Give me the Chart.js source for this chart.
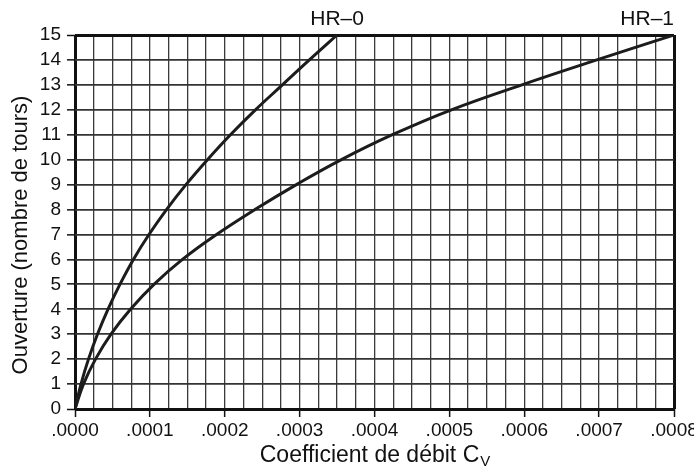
<!DOCTYPE html>
<html>
<head>
<meta charset="utf-8">
<script src="https://cdn.jsdelivr.net/npm/chart.js@4"></script>
<style>
  html, body { margin: 0; padding: 0; background: #fff; }
  #wrap { width: 694px; height: 473px; }
</style>
</head>
<body>
<div id="wrap"><canvas id="chart-cv"></canvas></div>
<script>
// opening (turns) on the y axis, flow coefficient Cv on the x axis
var OPENING = [0, 1, 2, 3, 4, 5, 6, 7, 8, 9, 10, 11, 12, 13, 14, 15]
var HR0_CV = [0, 0.000008, 0.000018, 0.00003, 0.000044, 0.00006, 0.000078, 0.0000988,
  0.0001222, 0.0001482, 0.0001769, 0.0002076, 0.000241, 0.000277, 0.000313, 0.00035]
var HR1_CV = [0, 0.0000113, 0.0000274, 0.0000481, 0.0000741, 0.0001055, 0.0001435, 0.000189,
  0.0002403, 0.0002957, 0.0003558, 0.0004239, 0.0005027, 0.0005968, 0.0006969, 0.0008]
var SERIES_NAMES = ['HR–0', 'HR–1']

var X_LABELS = ['.0000', '.0001', '.0002', '.0003', '.0004', '.0005', '.0006', '.0007', '.0008']
var X_MAJOR_STEP = 0.0001
var X_MINOR_PER_MAJOR = 4
var Y_MIN = 0
var Y_MAX = 15
var X_TITLE = 'Coefficient de débit C'
var X_TITLE_SUB = 'V'
var Y_TITLE = 'Ouverture (nombre de tours)'

var FONT = 'Liberation Sans, Arial, sans-serif'

function toPoints(cv) {
  return OPENING.map(function (o, i) { return { x: cv[i], y: o } })
}

// curve labels above the end of each series, axis titles (x one has a subscript)
var annotations = {
  id: 'annotations',
  afterDraw: function (chart) {
    var ctx = chart.ctx
    var area = chart.chartArea
    ctx.save()
    ctx.fillStyle = '#111'
    ctx.textBaseline = 'middle'
    ctx.textAlign = 'left'
    ctx.font = '21px ' + FONT
    chart.data.datasets.forEach(function (ds, i) {
      var pts = chart.getDatasetMeta(i).data
      var last = pts[pts.length - 1]
      var w = ctx.measureText(ds.label).width
      var x = Math.min(last.x - w / 2, area.right - w)
      ctx.fillText(ds.label, x, area.top - 16)
    })

    ctx.font = '23px ' + FONT
    var w1 = ctx.measureText(X_TITLE).width
    ctx.font = '15px ' + FONT
    var w2 = ctx.measureText(X_TITLE_SUB).width
    var cx = (area.left + area.right) / 2
    var x0 = cx - (w1 + w2) / 2
    ctx.font = '23px ' + FONT
    ctx.fillText(X_TITLE, x0, 456)
    ctx.font = '15px ' + FONT
    ctx.fillText(X_TITLE_SUB, x0 + w1 + 1, 462)

    ctx.translate(21, 235)
    ctx.rotate(-Math.PI / 2)
    ctx.textAlign = 'center'
    ctx.font = '22px ' + FONT
    ctx.fillText(Y_TITLE, 0, 0)
    ctx.restore()
  },
}

var edgeWidth = function (c, n) {
  return (c.index === 0 || c.index === n) ? 3 : null
}

var ctx = document.getElementById('chart-cv').getContext('2d')

var ChartCV = new Chart(ctx, {
  type: 'line',
  data: {
    datasets: [
      {
        label: SERIES_NAMES[0],
        data: toPoints(HR0_CV),
        borderColor: '#1c1c1c',
        borderWidth: 3,
        pointRadius: 0,
        fill: false,
        tension: 0.4,
      },
      {
        label: SERIES_NAMES[1],
        data: toPoints(HR1_CV),
        borderColor: '#1c1c1c',
        borderWidth: 3,
        pointRadius: 0,
        fill: false,
        tension: 0.4,
      },
    ],
  },
  plugins: [annotations],
  options: {
    responsive: true,
    maintainAspectRatio: false,
    animation: false,
    layout: {
      padding: { left: 0, right: 20, top: 35, bottom: 0 },
    },
    plugins: {
      legend: { display: false },
      tooltip: { enabled: false },
    },
    scales: {
      x: {
        type: 'linear',
        min: 0,
        max: X_MAJOR_STEP * (X_LABELS.length - 1),
        afterBuildTicks: function (scale) {
          var n = (X_LABELS.length - 1) * X_MINOR_PER_MAJOR
          var ticks = []
          for (var k = 0; k <= n; k++) ticks.push({ value: k * X_MAJOR_STEP / X_MINOR_PER_MAJOR })
          scale.ticks = ticks
        },
        afterFit: function (scale) {
          scale.height = 64
          scale.paddingLeft = 0
          scale.paddingRight = 0
        },
        border: { display: false },
        grid: {
          color: function (c) {
            var n = (X_LABELS.length - 1) * X_MINOR_PER_MAJOR
            return (c.index === 0 || c.index === n) ? '#111' : '#3a3a3a'
          },
          lineWidth: function (c) {
            return edgeWidth(c, (X_LABELS.length - 1) * X_MINOR_PER_MAJOR) || 1.3
          },
          tickColor: function (c) {
            return c.index % X_MINOR_PER_MAJOR === 0 ? '#111' : 'rgba(0,0,0,0)'
          },
          tickWidth: 1.5,
          tickLength: 8,
        },
        ticks: {
          autoSkip: false,
          maxRotation: 0,
          padding: 2,
          color: '#111',
          font: { size: 19, family: FONT },
          callback: function (v, i) {
            return i % X_MINOR_PER_MAJOR === 0 ? X_LABELS[i / X_MINOR_PER_MAJOR] : ''
          },
        },
      },
      y: {
        min: Y_MIN,
        max: Y_MAX,
        afterFit: function (scale) {
          scale.width = 75
        },
        border: { display: false },
        grid: {
          color: function (c) {
            return (c.index === 0 || c.index === Y_MAX - Y_MIN) ? '#111' : '#333'
          },
          lineWidth: function (c) {
            return edgeWidth(c, Y_MAX - Y_MIN) || 1.7
          },
          tickColor: '#111',
          tickWidth: 1.5,
          tickLength: 8,
        },
        ticks: {
          autoSkip: false,
          stepSize: 1,
          padding: 6,
          color: '#111',
          font: { size: 19, family: FONT },
        },
      },
    },
  },
})

window.ChartCV = ChartCV
</script>
</body>
</html>
